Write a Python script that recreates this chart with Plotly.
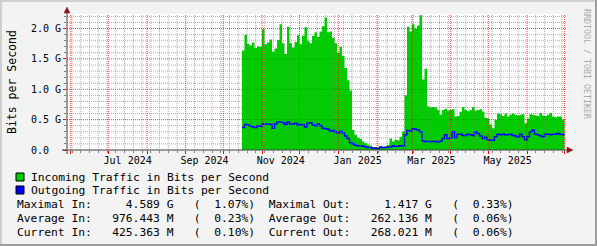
import plotly.graph_objects as go
import pandas as pd

# ---------------- data ----------------
start_date = "2024-10-16"
step_days = 2
in_vals = [1.64, 1.90, 1.75, 1.72, 1.77, 1.68, 1.71, 1.70, 1.99, 1.74,
           1.77, 1.82, 1.62, 1.67, 1.81, 2.07, 1.76, 1.58, 2.03, 1.76,
           1.69, 1.78, 1.89, 1.74, 1.88, 2.02, 1.80, 1.76, 1.88, 1.94,
           1.86, 1.95, 2.04, 2.18, 1.94, 1.95, 1.85, 1.76, 1.60, 1.70,
           1.55, 1.35, 1.15, 0.98, 0.33, 0.25, 0.20, 0.18, 0.14, 0.11,
           0.09, 0.07, 0.05, 0.05, 0.04, 0.05, 0.05, 0.06, 0.08, 0.19,
           0.14, 0.17, 0.16, 0.22, 0.30, 0.90, 2.03, 1.95, 2.07, 2.00,
           2.05, 2.22, 1.16, 1.34, 0.72, 0.70, 0.71, 0.70, 0.66, 0.58,
           0.66, 0.68, 0.65, 0.66, 0.67, 0.55, 0.56, 0.63, 0.71, 0.66,
           0.64, 0.66, 0.71, 0.65, 0.66, 0.67, 0.63, 0.53, 0.52, 0.42,
           0.36, 0.50, 0.60, 0.59, 0.56, 0.60, 0.55, 0.58, 0.60, 0.58,
           0.57, 0.58, 0.59, 0.44, 0.52, 0.59, 0.58, 0.57, 0.56, 0.61,
           0.57, 0.56, 0.58, 0.61, 0.55, 0.54, 0.55, 0.55, 0.50]
out_vals = [0.37, 0.42, 0.41, 0.39, 0.38, 0.37, 0.40, 0.39, 0.43, 0.43,
            0.43, 0.42, 0.36, 0.43, 0.46, 0.46, 0.45, 0.42, 0.46, 0.43,
            0.43, 0.44, 0.41, 0.42, 0.41, 0.38, 0.44, 0.45, 0.41, 0.40,
            0.43, 0.40, 0.36, 0.35, 0.34, 0.31, 0.32, 0.30, 0.28, 0.31,
            0.28, 0.23, 0.19, 0.12, 0.10, 0.08, 0.07, 0.07, 0.06, 0.05,
            0.04, 0.04, 0.03, 0.03, 0.02, 0.05, 0.04, 0.04, 0.05, 0.05,
            0.07, 0.06, 0.06, 0.07, 0.07, 0.25, 0.32, 0.31, 0.35, 0.34,
            0.33, 0.30, 0.15, 0.14, 0.14, 0.14, 0.14, 0.14, 0.13, 0.15,
            0.19, 0.25, 0.19, 0.20, 0.30, 0.20, 0.26, 0.26, 0.24, 0.24,
            0.26, 0.25, 0.24, 0.30, 0.27, 0.23, 0.19, 0.21, 0.17, 0.16,
            0.16, 0.22, 0.26, 0.25, 0.26, 0.25, 0.25, 0.26, 0.24, 0.23,
            0.21, 0.26, 0.22, 0.17, 0.22, 0.30, 0.33, 0.26, 0.25, 0.23,
            0.22, 0.26, 0.26, 0.25, 0.26, 0.26, 0.27, 0.26, 0.25]

x_range = ["2024-05-29", "2025-07-03"]
y_max = 2.24
y_tick_vals = [0.0, 0.5, 1.0, 1.5, 2.0]
y_tick_text = ["0.0", "0.5 G", "1.0 G", "1.5 G", "2.0 G"]
label_months = ["2024-07", "2024-09", "2024-11", "2025-01", "2025-03", "2025-05"]

legend_names = ["Incoming Traffic in Bits per Second", "Outgoing Traffic in Bits per Second"]
stat_names = ["Maximal", "Average", "Current"]
in_stats = ["4.589 G", "976.443 M", "425.363 M"]
in_pct = ["1.07%", "0.23%", "0.10%"]
out_stats = ["1.417 G", "262.136 M", "268.021 M"]
out_pct = ["0.33%", "0.06%", "0.06%"]

GREEN = "#00cc00"
BLUE = "#0000ff"
MONO = "DejaVu Sans Mono"

# ---------------- geometry helpers (pixel -> paper) ----------------
W, H = 597, 246
L, R, T, B = 67, 30, 14, 96
PW, PH = W - L - R, H - T - B


def px(xp):
    return (xp - L) / PW


def py(yp):
    return (H - B - yp) / PH


NB = "\u00a0"


def keep(s):
    return s.replace(" ", NB)


# ---------------- traces ----------------
dates = pd.date_range(start_date, periods=len(in_vals) + 1, freq=f"{step_days}D")
in_y = in_vals + [in_vals[-1]]
out_y = out_vals + [out_vals[-1]]

fig = go.Figure()
fig.add_trace(go.Scatter(x=dates, y=in_y, mode="lines", line=dict(width=0, shape="hv", color=GREEN),
                         fill="tozeroy", fillcolor=GREEN, hoverinfo="skip", showlegend=False))
fig.add_trace(go.Scatter(x=dates, y=out_y, mode="lines", line=dict(width=1.5, shape="hv", color=BLUE),
                         hoverinfo="skip", showlegend=False))
# invisible trace for the label axis
fig.add_trace(go.Scatter(x=[dates[0]], y=[0], xaxis="x2", mode="markers", marker=dict(opacity=0),
                         hoverinfo="skip", showlegend=False))

# ---------------- grid as shapes above the data ----------------
shapes = []
MAJ = "rgba(255,0,0,0.75)"
MIN = "rgba(120,120,120,0.6)"
months = pd.date_range("2024-06-01", "2025-07-01", freq="MS")
weeks = pd.date_range("2024-06-02", "2025-07-03", freq="7D")
month_set = set(m.normalize() for m in months)
for wk in weeks:
    if wk in month_set:
        continue
    shapes.append(dict(type="line", xref="x", yref="paper", x0=wk, x1=wk, y0=0, y1=1,
                       line=dict(color=MIN, width=1, dash="1px,1px"), layer="above"))
for k in range(1, int(round(y_max * 10)) + 1):
    v = k / 10
    if k % 5 == 0 or v > y_max:
        continue
    shapes.append(dict(type="line", xref="paper", yref="y", x0=0, x1=1, y0=v, y1=v,
                       line=dict(color=MIN, width=1, dash="1px,1px"), layer="above"))
for m in months:
    shapes.append(dict(type="line", xref="x", yref="paper", x0=m, x1=m, y0=0, y1=1,
                       line=dict(color=MAJ, width=1, dash="1px,1px"), layer="above"))
for v in y_tick_vals[1:]:
    shapes.append(dict(type="line", xref="paper", yref="y", x0=0, x1=1, y0=v, y1=v,
                       line=dict(color=MAJ, width=1, dash="1px,1px"), layer="above"))

# axes lines + arrows
AX = "#404040"
ARW = "#8b1a1a"
shapes.append(dict(type="line", xref="paper", yref="paper", x0=px(62), x1=px(569), y0=0, y1=0,
                   line=dict(color=AX, width=1), layer="above"))
shapes.append(dict(type="line", xref="paper", yref="paper", x0=0, x1=0, y0=py(154), y1=py(12),
                   line=dict(color=AX, width=1), layer="above"))
shapes.append(dict(type="path", xref="paper", yref="paper",
                   path=f"M {px(567)} {py(147)} L {px(567)} {py(153)} L {px(573)} {py(150)} Z",
                   fillcolor=ARW, line=dict(color=ARW, width=0.5), layer="above"))
shapes.append(dict(type="path", xref="paper", yref="paper",
                   path=f"M {px(64)} {py(13)} L {px(70)} {py(13)} L {px(67)} {py(7)} Z",
                   fillcolor=ARW, line=dict(color=ARW, width=0.5), layer="above"))

# frame
shapes.append(dict(type="line", xref="paper", yref="paper", x0=px(0), x1=px(W), y0=py(1), y1=py(1),
                   line=dict(color="#cfcfcf", width=2)))
shapes.append(dict(type="line", xref="paper", yref="paper", x0=px(1), x1=px(1), y0=py(0), y1=py(H),
                   line=dict(color="#cfcfcf", width=2)))
shapes.append(dict(type="line", xref="paper", yref="paper", x0=px(0), x1=px(W), y0=py(H - 1), y1=py(H - 1),
                   line=dict(color="#9e9e9e", width=2)))
shapes.append(dict(type="line", xref="paper", yref="paper", x0=px(W - 1), x1=px(W - 1), y0=py(0), y1=py(H),
                   line=dict(color="#9e9e9e", width=2)))

# legend squares
for i, col in enumerate([GREEN, BLUE]):
    yc = [177, 190][i]
    shapes.append(dict(type="rect", xref="paper", yref="paper", x0=px(16), x1=px(24),
                       y0=py(yc + 4), y1=py(yc - 4), fillcolor=col, line=dict(color="#000000", width=1)))

# ---------------- annotations ----------------
ann = []
for i, name in enumerate(legend_names):
    ann.append(dict(text=keep(name), xref="paper", yref="paper", x=px(29), y=py([177, 190][i]),
                    xanchor="left", yanchor="middle", showarrow=False,
                    font=dict(family=MONO, size=11.3, color="#000000")))
for i, nm in enumerate(stat_names):
    line = (f"{nm} In:" + f"{in_stats[i]:>12}" + "   (" + f"{in_pct[i]:>7}" + ")"
            + "  " + f"{nm} Out:" + f"{out_stats[i]:>12}" + "   (" + f"{out_pct[i]:>7}" + ")")
    ann.append(dict(text=keep(line), xref="paper", yref="paper", x=px(15), y=py([204, 218, 232][i]),
                    xanchor="left", yanchor="middle", showarrow=False,
                    font=dict(family=MONO, size=11.3, color="#000000")))
ann.append(dict(text="Bits per Second", xref="paper", yref="paper", x=px(12), y=py(82), textangle=-90,
                xanchor="center", yanchor="middle", showarrow=False,
                font=dict(family=MONO, size=11.5, color="#000000")))
ann.append(dict(text="RRDTOOL / TOBI OETIKER", xref="paper", yref="paper", x=px(587), y=py(64), textangle=90,
                xanchor="center", yanchor="middle", showarrow=False,
                font=dict(family=MONO, size=8.3, color="#aaaaaa")))

# label tick positions: mid-month
lab_vals, lab_text = [], []
for m in label_months:
    s = pd.Timestamp(m + "-01")
    e = s + pd.offsets.MonthBegin(1)
    lab_vals.append(s + (e - s) / 2)
    lab_text.append(s.strftime("%b %Y"))

fig.update_layout(
    width=W, height=H, margin=dict(l=L, r=R, t=T, b=B, pad=0),
    paper_bgcolor="#f3f3f3", plot_bgcolor="#ffffff",
    shapes=shapes, annotations=ann, showlegend=False,
    xaxis=dict(type="date", range=x_range, showgrid=False, zeroline=False, showline=False,
               tickmode="linear", tick0="2024-06-01", dtick="M1", showticklabels=False,
               ticks="outside", ticklen=3, tickcolor="#ff0000", tickwidth=1,
               minor=dict(tickmode="linear", tick0="2024-06-02", dtick=7 * 86400000,
                          ticks="outside", ticklen=2, tickcolor="#808080", showgrid=False)),
    xaxis2=dict(type="date", overlaying="x", matches="x", side="bottom", anchor="y",
                tickmode="array", tickvals=lab_vals, ticktext=lab_text, ticks="", showgrid=False,
                zeroline=False, showline=False, ticklabelstandoff=3,
                tickfont=dict(family=MONO, size=10, color="#000000")),
    yaxis=dict(range=[0, y_max], showgrid=False, zeroline=False, showline=False,
               tickmode="array", tickvals=y_tick_vals,
               ticktext=[t.ljust(5).replace(" ", NB) for t in y_tick_text],
               ticks="outside", ticklen=3, tickcolor="#ff0000",
               tickfont=dict(family=MONO, size=10, color="#000000"),
               minor=dict(tickmode="linear", tick0=0, dtick=0.1, ticks="outside", ticklen=2,
                          tickcolor="#808080", showgrid=False)),
)

fig.write_html("out.html")
